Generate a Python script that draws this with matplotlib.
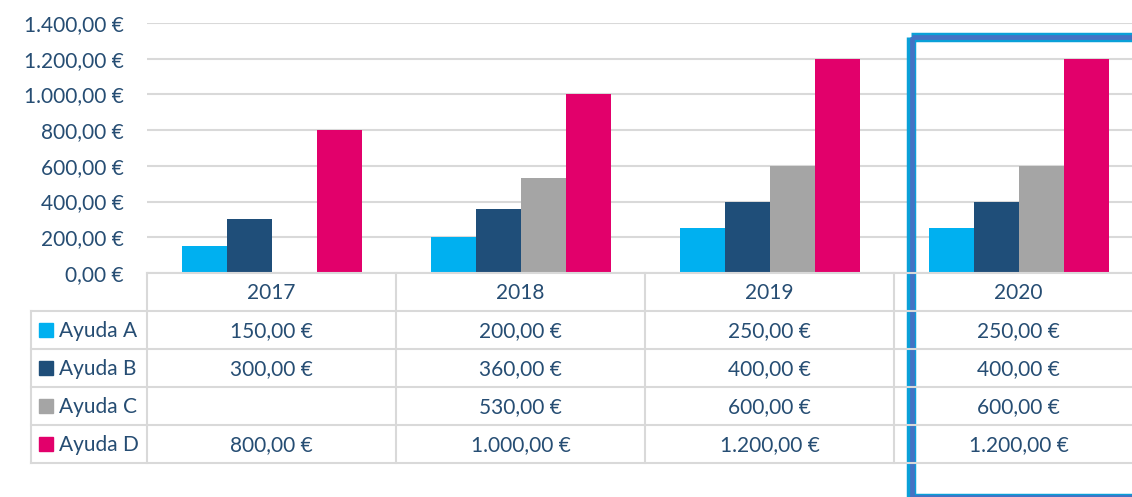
import numpy as np
import matplotlib
matplotlib.use("Agg")
import matplotlib.pyplot as plt
from matplotlib.patches import Rectangle

plt.rcParams['font.family'] = ['Lato', 'DejaVu Sans']

years = ['2017', '2018', '2019', '2020']
series_names = ['Ayuda A', 'Ayuda B', 'Ayuda C', 'Ayuda D']
ayuda_a = [150, 200, 250, 250]
ayuda_b = [300, 360, 400, 400]
ayuda_c = [np.nan, 530, 600, 600]
ayuda_d = [800, 1000, 1200, 1200]
y_ticks = [0, 200, 400, 600, 800, 1000, 1200, 1400]

colors = ['#00B0F0', '#1F4E79', '#A5A5A5', '#E2006B']
text_col = '#264D73'
grid_col = '#D9D9D9'


def eur(v):
    s = f"{v:,.2f}".replace(',', 'X').replace('.', ',').replace('X', '.')
    return s + " €"


W, H = 1132, 497
fig = plt.figure(figsize=(W / 100, H / 100), dpi=100)

# layout in pixels (Excel-style chart with data table below)
plot_left, plot_top, plot_bottom = 147, 23, 273
col_w = 249
bar_w = 45 / col_w
row_h = 38
legend_left = 31

ax = fig.add_axes([plot_left / W, (H - plot_bottom) / H,
                   (W - plot_left) / W, (plot_bottom - plot_top) / H])
x = np.arange(len(years))
all_series = [ayuda_a, ayuda_b, ayuda_c, ayuda_d]
for j, vals in enumerate(all_series):
    ax.bar(x + (j - 1.5) * bar_w, vals, bar_w, color=colors[j], zorder=3)
ax.set_xlim(-0.5, -0.5 + (W - plot_left) / col_w)
ax.set_ylim(0, 1400)
ax.set_yticks(y_ticks)
ax.set_yticklabels([eur(v) for v in y_ticks], fontsize=15, color=text_col)
ax.tick_params(axis='y', length=0, pad=16.5)
ax.set_xticks([])
ax.grid(axis='y', color=grid_col, linewidth=1.5)
for s in ax.spines.values():
    s.set_visible(False)

# data table drawn in pixel coordinates on an overlay
tab = fig.add_axes([0, 0, 1, 1], zorder=5)
tab.set_xlim(0, W)
tab.set_ylim(H, 0)
tab.axis('off')
tab.patch.set_alpha(0)

lw = 1.5
col_edges = [plot_left + i * col_w for i in range(len(years) + 1)]
header_bottom = plot_bottom + row_h
table_bottom = header_bottom + row_h * len(series_names)
tab.plot([plot_left, W], [plot_bottom, plot_bottom], color=grid_col, lw=lw)
for k in range(len(series_names) + 1):
    yy = header_bottom + k * row_h
    tab.plot([legend_left, W], [yy, yy], color=grid_col, lw=lw)
for xe in col_edges:
    tab.plot([xe, xe], [plot_bottom, table_bottom], color=grid_col, lw=lw)
tab.plot([legend_left, legend_left], [header_bottom, table_bottom], color=grid_col, lw=lw)

for i, yr in enumerate(years):
    cx = plot_left + (i + 0.5) * col_w
    tab.text(cx, plot_bottom + row_h / 2 + 1, yr, ha='center', va='center',
             fontsize=15, color=text_col)
    for j, vals in enumerate(all_series):
        cy = header_bottom + (j + 0.5) * row_h + 1
        if not np.isnan(vals[i]):
            tab.text(cx, cy, eur(vals[i]), ha='center', va='center',
                     fontsize=15, color=text_col)

for j, name in enumerate(series_names):
    cy = header_bottom + (j + 0.5) * row_h
    tab.add_patch(Rectangle((39, cy - 7), 14, 14, color=colors[j]))
    tab.text(59, cy + 1, name, ha='left', va='center', fontsize=15, color=text_col)

# highlight box around 2020
tab.add_patch(Rectangle((911, 36.5), 400, 461, fill=False, ec='#0AA0D8', lw=6.8,
                        joinstyle='miter'))
tab.add_patch(Rectangle((911.5, 37), 400, 460, fill=False, ec='#4472C4', lw=3.4,
                        joinstyle='miter'))

fig.savefig('out.png', dpi=100)
